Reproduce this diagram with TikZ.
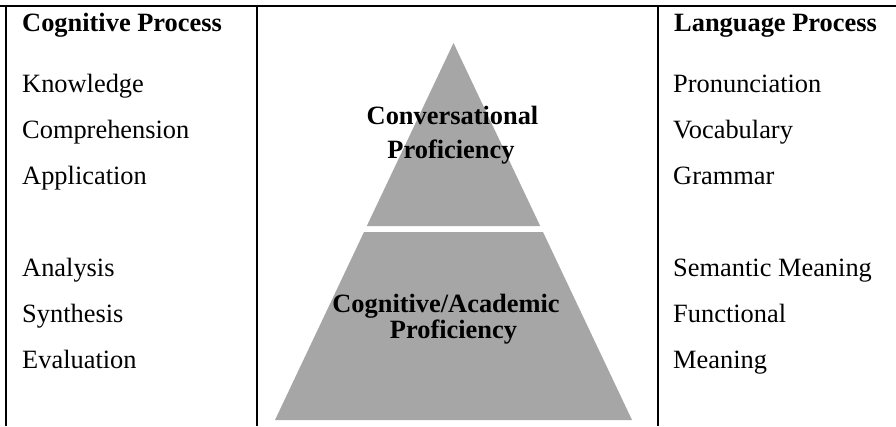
\documentclass[tikz,border=0pt]{standalone}
\usepackage{fontspec}
\setmainfont{Liberation Serif}
\definecolor{pyrgray}{RGB}{166,166,166}
\begin{document}
\begin{tikzpicture}[x=1pt,y=-1pt,
  rule/.style={line width=2.4pt,black},
  tier/.style={fill=pyrgray,draw=none},
  item/.style={anchor=base west,inner sep=0pt,font=\fontsize{26.4}{30}\selectfont},
  head/.style={item,font=\fontsize{26.4}{30}\selectfont\bfseries},
  tiertext/.style={anchor=base,inner sep=0pt,font=\fontsize{26.4}{30}\selectfont\bfseries}]
\useasboundingbox (0,0) rectangle (896,426);

% table rules
\draw[rule] (0,6) -- (896,6);
\draw[rule] (6,6) -- (6,426);
\draw[rule] (257,6) -- (257,426);
\draw[rule] (658,6) -- (658,426);

% pyramid: upper triangle and lower trapezoid
\fill[tier] (453.5,43) -- (540.2,226) -- (366.8,226) -- cycle;
\fill[tier] (364,232) -- (543,232) -- (632,420) -- (275,420) -- cycle;

% pyramid labels
\node[tiertext] (conv1) at (452.5,124) {Conversational};
\node[tiertext] (conv2) at (451,158) {Proficiency};
\node[tiertext] (acad1) at (446,312) {Cognitive/Academic};
\node[tiertext] (acad2) at (453.5,338) {Proficiency};

% cognitive column
\node[head] (cogh) at (22,31) {Cognitive Process};
\node[item] (c1) at (22,92) {Knowledge};
\node[item] (c2) at (22,138) {Comprehension};
\node[item] (c3) at (22,184) {Application};
\node[item] (c4) at (22,276) {Analysis};
\node[item] (c5) at (22,322) {Synthesis};
\node[item] (c6) at (22,368) {Evaluation};

% language column
\node[head] (langh) at (674,31) {Language Process};
\node[item] (l1) at (673,92) {Pronunciation};
\node[item] (l2) at (673,138) {Vocabulary};
\node[item] (l3) at (673,184) {Grammar};
\node[item] (l4) at (673,276) {Semantic Meaning};
\node[item] (l5) at (673,322) {Functional};
\node[item] (l6) at (673,368) {Meaning};
\end{tikzpicture}
\end{document}
